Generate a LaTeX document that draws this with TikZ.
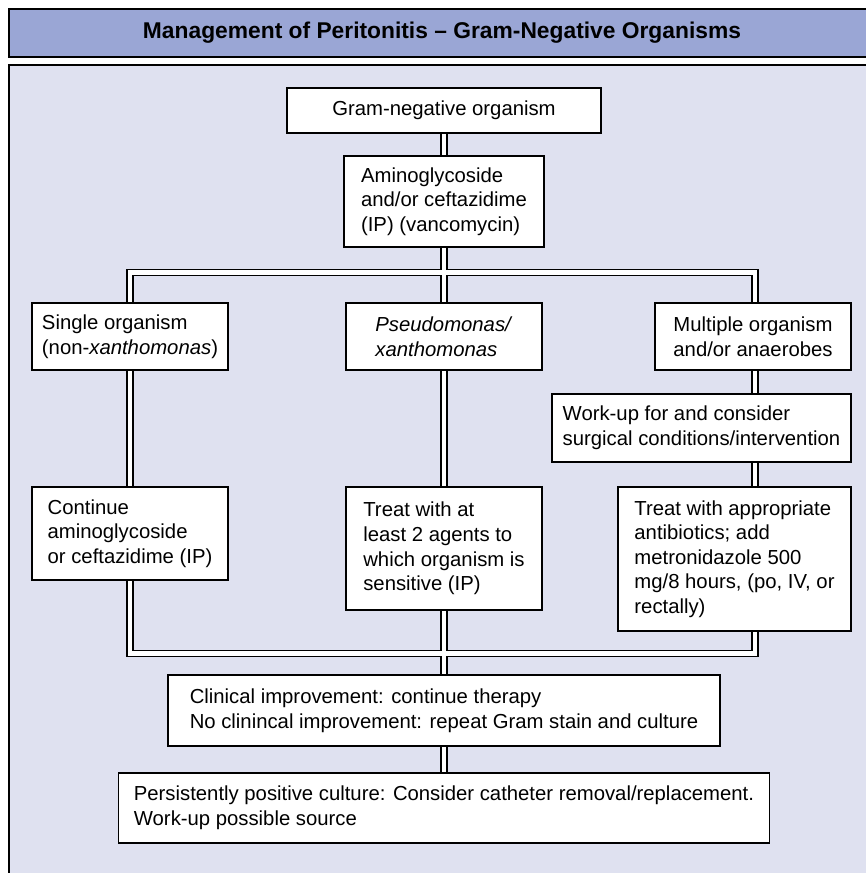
\documentclass[tikz,border=0pt]{standalone}
\usepackage{fontspec}
\setmainfont{Liberation Sans}
\pgfdeclarelayer{panel}
\pgfdeclarelayer{pipes}
\pgfsetlayers{panel,pipes,main}
\definecolor{titleblue}{RGB}{154,166,213}
\definecolor{panelbg}{RGB}{223,225,240}
\tikzset{
  box/.style={draw=black, line width=1.4pt, fill=white, align=left, inner sep=0pt,
    font=\fontsize{20.3}{24.6}\selectfont},
  pipeout/.style={line width=7.6pt, draw=black},
  pipein/.style={line width=4.6pt, draw=white},
  frame/.style={draw=black, line width=1.5pt},
}
\newcommand\drawmypipes[1]{%
  \draw[#1] (gram.south) -- (amino.north);
  \draw[#1] (amino.south) -- (pseudo.north);
  \draw[#1] (single.north) -- (tl) -- (tr) -- (multi.north -| tr);
  \draw[#1] (single.south) -- (cont.north);
  \draw[#1] (pseudo.south) -- (treat2.north);
  \draw[#1] (multi.south -| tr) -- (workup.north -| tr);
  \draw[#1] (workup.south -| tr) -- (treat3.north -| tr);
  \draw[#1] (cont.south) -- (bl) -- (br) -- (treat3.south -| br);
  \draw[#1] (treat2.south) -- (clin.north);
  \draw[#1] (clin.south) -- (pers.north);
}
\begin{document}
\begin{tikzpicture}[x=1pt,y=-1pt]
\useasboundingbox (0,0) rectangle (866,873);
\begin{pgfonlayer}{panel}
  \fill[white] (0,0) rectangle (866,873);
  \draw[frame, fill=titleblue] (9,9) rectangle (880,57);
  \draw[frame, fill=panelbg] (9,65) rectangle (880,900);
\end{pgfonlayer}
\node[font=\fontsize{22.8}{27}\selectfont\bfseries, inner sep=0pt] (title) at (442,33)
  {Management of Peritonitis – Gram-Negative Organisms};

\node[box, minimum width=314pt, minimum height=45pt] (gram) at (444,110.5)
  {Gram-negative organism};
\node[box, minimum width=200pt, minimum height=91pt] (amino) at (444,201.5)
  {Aminoglycoside\\and/or ceftazidime\\(IP) (vancomycin)};
\node[box, minimum width=196pt, minimum height=67pt] (single) at (130,336.5)
  {Single organism\\(non-\textit{xanthomonas})};
\node[box, minimum width=196pt, minimum height=67pt] (pseudo) at (444,336.5)
  {\textit{Pseudomonas/}\\\textit{xanthomonas}};
\node[box, minimum width=196pt, minimum height=67pt] (multi) at (753,336.5)
  {Multiple organism\\and/or anaerobes};
\node[box, minimum width=299pt, minimum height=68pt] (workup) at (701.5,428)
  {Work-up for and consider\\surgical conditions/intervention};
\node[box, minimum width=196pt, minimum height=93pt] (cont) at (130,533.5)
  {Continue\\aminoglycoside\\or ceftazidime (IP)};
\node[box, minimum width=196pt, minimum height=123pt] (treat2) at (444,548.5)
  {Treat with at\\least 2 agents to\\which organism is\\sensitive (IP)};
\node[box, minimum width=233pt, minimum height=144pt] (treat3) at (734.5,559)
  {Treat with appropriate\\antibiotics; add\\metronidazole 500\\mg/8 hours, (po, IV, or\\rectally)};
\node[box, minimum width=552pt, minimum height=71pt] (clin) at (444,710.5)
  {Clinical improvement: continue therapy\\No clinincal improvement: repeat Gram stain and culture};
\node[box, minimum width=651pt, minimum height=70pt] (pers) at (444,808)
  {Persistently positive culture: Consider catheter removal/replacement.\\Work-up possible source};

\coordinate (tl) at (130,272.5);
\coordinate (tr) at (755,272.5);
\coordinate (bl) at (130,653.5);
\coordinate (br) at (755,653.5);

\begin{pgfonlayer}{pipes}
  \drawmypipes{pipeout}
  \drawmypipes{pipein}
\end{pgfonlayer}
\end{tikzpicture}
\end{document}
